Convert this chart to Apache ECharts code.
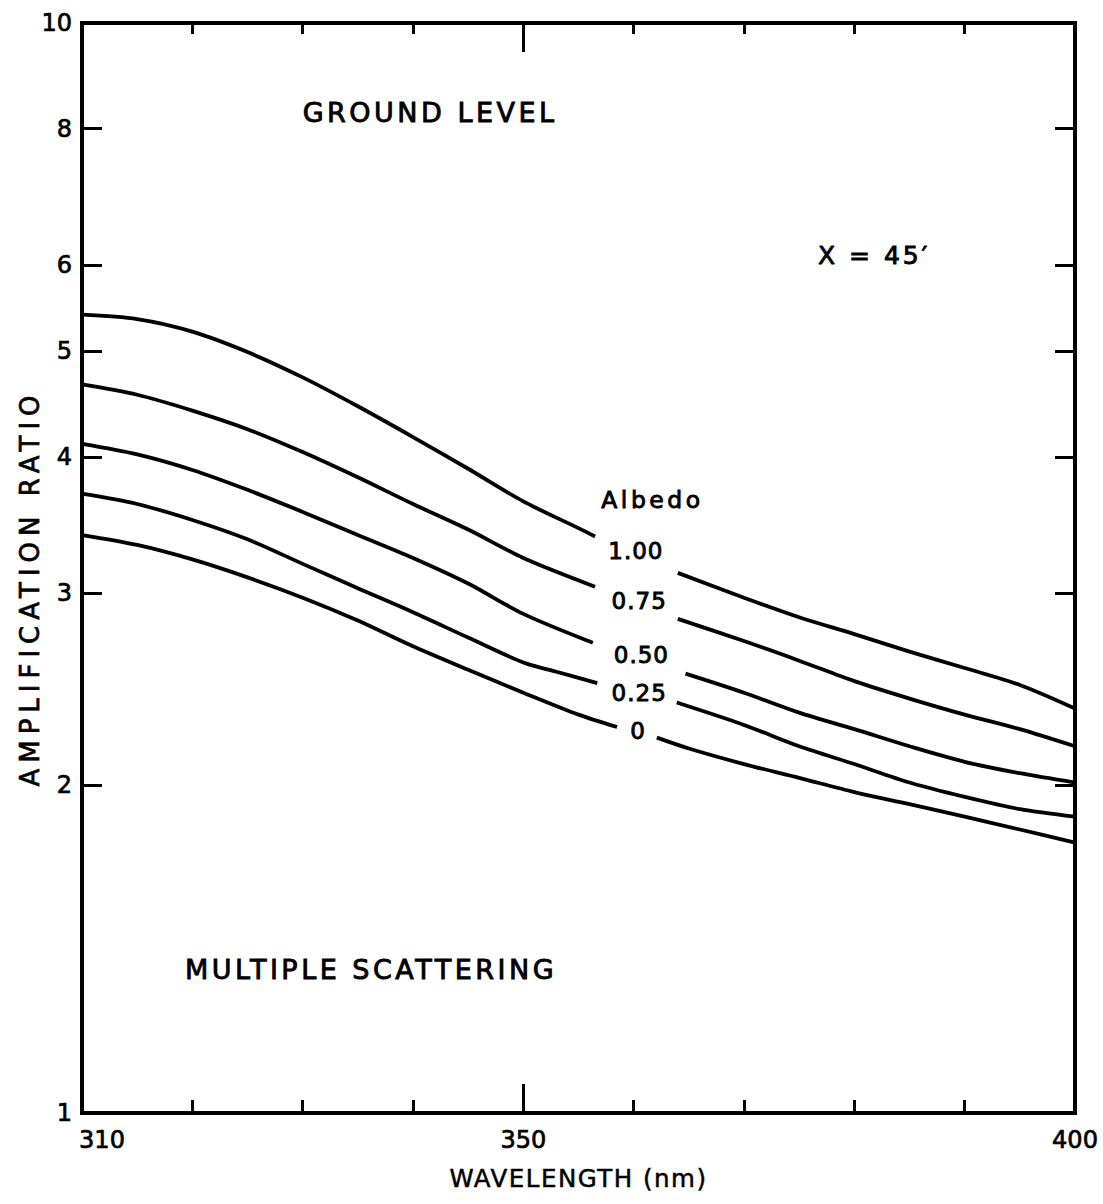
<!DOCTYPE html>
<html>
<head>
<meta charset="utf-8">
<script src="https://cdn.jsdelivr.net/npm/echarts@6/dist/echarts.min.js"></script>
<style>
html, body { margin: 0; padding: 0; background: #fff; }
#chart { width: 1103px; height: 1204px; }
#chart text[style*="27px"] { letter-spacing: 3.5px; }
#chart text[style*="26px"] { letter-spacing: 6px; }
#chart text[style*="25px"] { letter-spacing: 3px; }
#chart text[style*="24.5px"] { letter-spacing: 1.5px; }
#chart text[style*="23.5px"] { letter-spacing: 3.5px; }
#chart text[style*="23px"] { letter-spacing: 1px; }
</style>
</head>
<body>
<div id="chart"></div>
<script>
// ---- data (wavelength in nm, amplification ratio) ----
// null marks the break in each curve where its albedo label is written
const wavelength100 = [310, 315, 320, 325, 330, 335, 340, 345, 350, 355, 356.5, 360, 364, 370, 375, 380, 385, 390, 395, 400];
const ratio100      = [5.40, 5.35, 5.21, 4.99, 4.73, 4.45, 4.17, 3.90, 3.64, 3.44, 3.38, null, 3.13, 2.97, 2.85, 2.75, 2.65, 2.56, 2.47, 2.35];

const wavelength075 = [310, 315, 320, 325, 330, 335, 340, 345, 350, 356.5, 360, 364, 370, 375, 380, 385, 390, 395, 400];
const ratio075      = [4.66, 4.56, 4.41, 4.24, 4.04, 3.83, 3.62, 3.43, 3.23, 3.04, null, 2.84, 2.71, 2.60, 2.49, 2.40, 2.32, 2.25, 2.17];

const wavelength050 = [310, 315, 320, 325, 330, 335, 340, 345, 350, 356.3, 360, 364.7, 370, 375, 380, 385, 390, 395, 400];
const ratio050      = [4.11, 4.02, 3.89, 3.73, 3.56, 3.39, 3.23, 3.06, 2.87, 2.70, null, 2.53, 2.43, 2.33, 2.25, 2.17, 2.10, 2.05, 2.01];

const wavelength025 = [310, 315, 320, 325, 330, 335, 340, 345, 350, 353, 356.7, 360, 363.9, 370, 375, 380, 385, 390, 395, 400];
const ratio025      = [3.70, 3.62, 3.50, 3.36, 3.19, 3.03, 2.88, 2.73, 2.59, 2.54, 2.48, null, 2.38, 2.27, 2.17, 2.09, 2.01, 1.95, 1.90, 1.87];

const wavelength000 = [310, 315, 320, 325, 330, 335, 340, 345, 350, 355, 358.5, 360.3, 362.1, 365, 370, 375, 380, 385, 390, 395, 400];
const ratio000      = [3.39, 3.32, 3.22, 3.10, 2.97, 2.83, 2.68, 2.55, 2.43, 2.32, 2.26, null, 2.21, 2.16, 2.09, 2.03, 1.97, 1.92, 1.87, 1.82, 1.77];

const albedoNames = ['1.00', '0.75', '0.50', '0.25', '0'];

// axis ticks / labels
const xLabelValues = [310, 350, 400];
const xMajorTicks  = [350];
const yTickValues  = [2, 3, 4, 5, 6, 8];
const yLabelValues = [1, 2, 3, 4, 5, 6, 8, 10];

// text annotations in data coordinates [wavelength, ratio]
const albedoLabelPos = [[360.2, 3.28], [360.5, 2.95], [360.7, 2.63], [360.5, 2.43], [360.4, 2.24]];
const albedoTitlePos = [361.7, 3.65];
const groundLevelPos = [341.55, 8.27];
const scatteringPos  = [336.2, 1.353];
const zenithPos      = [376.7, 6.12];

// ---- chart ----
const FONT = 'DejaVu Sans';
const curves = [
  [wavelength100, ratio100],
  [wavelength075, ratio075],
  [wavelength050, ratio050],
  [wavelength025, ratio025],
  [wavelength000, ratio000]
];
function pairs(xs, ys) { return xs.map((x, i) => [x, ys[i] == null ? '-' : ys[i]]); }

const lineSeries = curves.map((c, i) => ({
  type: 'line',
  name: albedoNames[i],
  xAxisIndex: 0, yAxisIndex: 0,
  data: pairs(c[0], c[1]),
  connectNulls: false,
  smooth: 0.3,
  showSymbol: false,
  symbol: 'none',
  silent: true,
  lineStyle: { color: '#000', width: 3.8 }
}));

function ann(pos, text, size, align) {
  return {
    value: pos,
    name: text,
    label: { formatter: text, fontSize: size, align: align || 'center' }
  };
}
const annData = [
  ann(albedoTitlePos, 'Albedo', 23.5),
  ann(groundLevelPos, 'GROUND LEVEL', 27),
  ann(scatteringPos, 'MULTIPLE SCATTERING', 27),
  ann(zenithPos, 'X = 45\u2032', 25, 'left')
].concat(albedoNames.map((n, i) => ann(albedoLabelPos[i], n, 23)));

const axisLineStyle = { color: '#000', width: 4, cap: 'square' };
const tickLabelStyle = { fontSize: 24, fontFamily: FONT, color: '#000', textBorderColor: '#000', textBorderWidth: 0.7 };

const option = {
  animation: false,
  backgroundColor: '#fff',
  grid: { left: 82, right: 28, top: 23, bottom: 91, containLabel: false },
  xAxis: [
    { // bottom, minor ticks + labels
      type: 'value', position: 'bottom', min: 310, max: 400, interval: 10,
      axisLine: { show: true, lineStyle: axisLineStyle },
      axisTick: { show: true, inside: true, length: 13, lineStyle: { color: '#000', width: 3 } },
      splitLine: { show: false },
      axisLabel: Object.assign({
        customValues: xLabelValues, margin: 15,
        formatter: v => v === 310 ? '{p|310}' : String(v),
        rich: { p: { padding: [0, 0, 0, 40], fontSize: 24, fontFamily: FONT, color: '#000', textBorderColor: '#000', textBorderWidth: 0.7 } }
      }, tickLabelStyle),
      name: 'WAVELENGTH (nm)', nameLocation: 'middle', nameGap: 53,
      nameTextStyle: { fontSize: 24.5, fontFamily: FONT, color: '#000', textBorderColor: '#000', textBorderWidth: 0.5 }
    },
    { // bottom, long ticks
      type: 'value', position: 'bottom', min: 310, max: 400, interval: 10,
      axisLine: { show: false },
      axisTick: { show: true, inside: true, length: 29, customValues: xMajorTicks, lineStyle: { color: '#000', width: 3 } },
      axisLabel: { show: false }, splitLine: { show: false }
    },
    { // top, minor ticks
      type: 'value', position: 'top', min: 310, max: 400, interval: 10,
      axisLine: { show: true, lineStyle: axisLineStyle },
      axisTick: { show: true, inside: true, length: 11, lineStyle: { color: '#000', width: 3 } },
      axisLabel: { show: false }, splitLine: { show: false }
    },
    { // top, long ticks
      type: 'value', position: 'top', min: 310, max: 400, interval: 10,
      axisLine: { show: false },
      axisTick: { show: true, inside: true, length: 29, customValues: xMajorTicks, lineStyle: { color: '#000', width: 3 } },
      axisLabel: { show: false }, splitLine: { show: false }
    }
  ],
  yAxis: [
    {
      type: 'log', logBase: 10, position: 'left', min: 1, max: 10,
      axisLine: { show: true, lineStyle: axisLineStyle },
      axisTick: { show: true, inside: true, length: 20, customValues: yTickValues, lineStyle: { color: '#000', width: 3 } },
      axisLabel: Object.assign({ customValues: yLabelValues, margin: 10, formatter: v => String(Math.round(v)) }, tickLabelStyle),
      splitLine: { show: false }, minorTick: { show: false }
    },
    {
      type: 'log', logBase: 10, position: 'right', min: 1, max: 10,
      axisLine: { show: true, lineStyle: axisLineStyle },
      axisTick: { show: true, inside: true, length: 20, customValues: yTickValues, lineStyle: { color: '#000', width: 3 } },
      axisLabel: { show: false }, splitLine: { show: false }
    }
  ],
  graphic: [{
    type: 'text', x: 30, y: 588, rotation: Math.PI / 2,
    style: { text: 'AMPLIFICATION RATIO', fontSize: 26, fontFamily: FONT, fill: '#000',
             stroke: '#000', lineWidth: 0.7, textAlign: 'center', textVerticalAlign: 'middle' }
  }],
  series: lineSeries.concat([{
    type: 'scatter', xAxisIndex: 0, yAxisIndex: 0, silent: true,
    symbolSize: 1, itemStyle: { color: 'rgba(0,0,0,0)' },
    emphasis: { disabled: true },
    label: {
      show: true, position: 'inside', verticalAlign: 'middle',
      fontFamily: FONT, color: '#000', opacity: 1,
      textBorderColor: '#000', textBorderWidth: 0.9
    },
    data: annData, z: 5
  }])
};

const chart = echarts.init(document.getElementById('chart'), null, { renderer: 'svg' });
chart.setOption(option);
</script>
</body>
</html>
